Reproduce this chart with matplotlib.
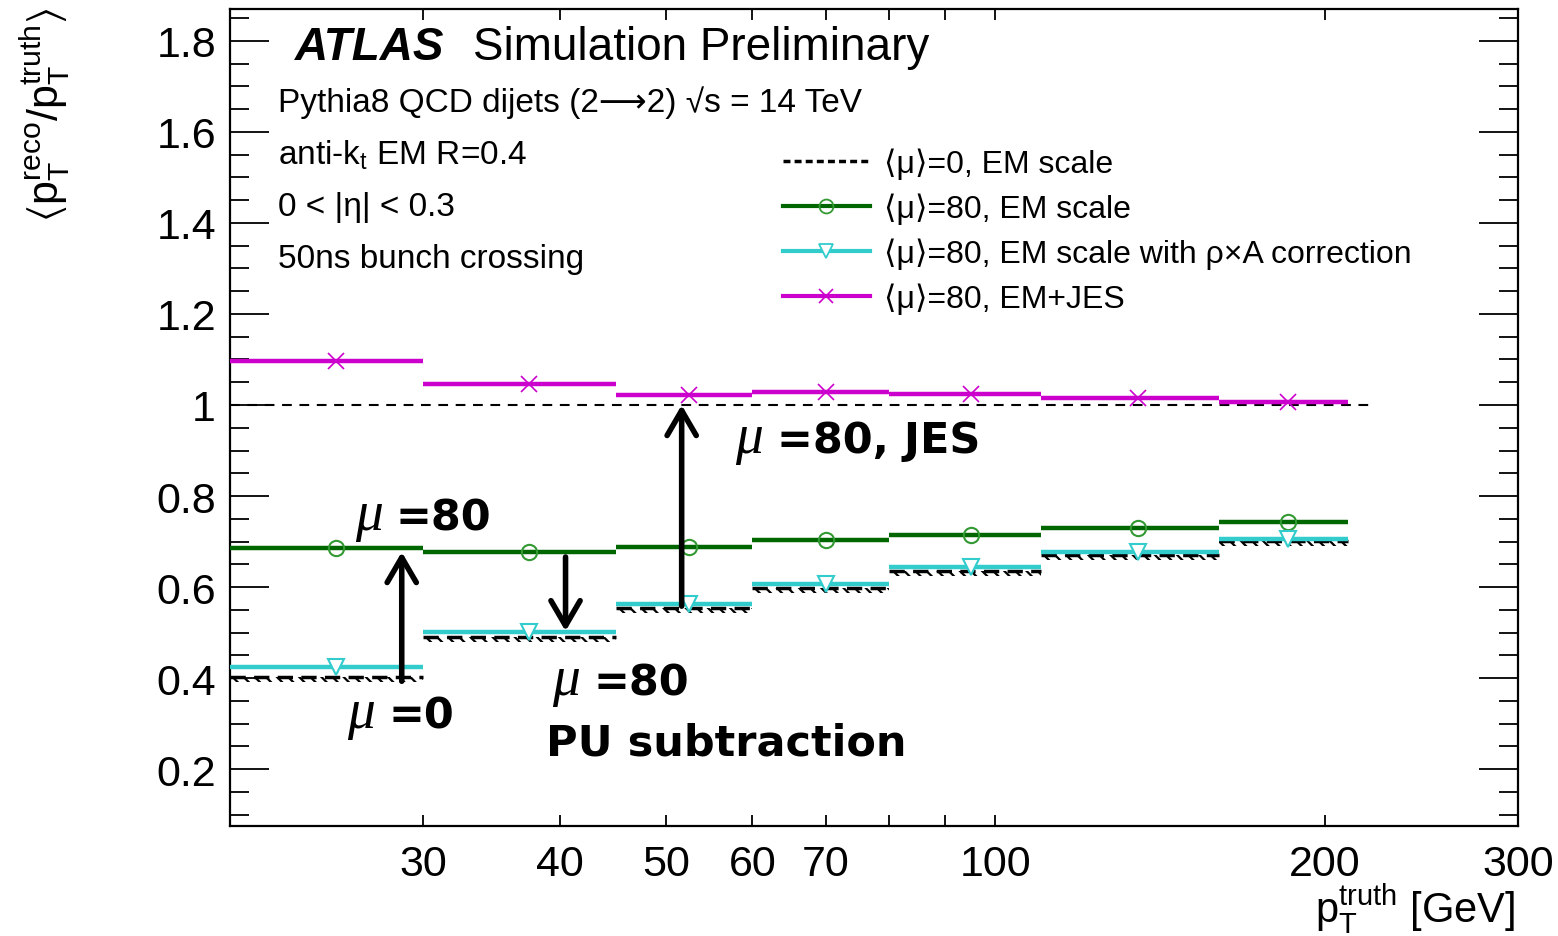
import numpy as np
import matplotlib
matplotlib.use('Agg')
import matplotlib.pyplot as plt
from matplotlib.lines import Line2D
from matplotlib.ticker import FixedLocator, MultipleLocator, FuncFormatter
from matplotlib.transforms import offset_copy

plt.rcParams['font.family'] = ['Liberation Sans', 'DejaVu Sans']
plt.rcParams['mathtext.fontset'] = 'custom'
plt.rcParams['mathtext.rm'] = 'Liberation Sans'
plt.rcParams['mathtext.it'] = 'Liberation Sans:italic'
plt.rcParams['mathtext.bf'] = 'Liberation Sans:bold'
plt.rcParams['mathtext.default'] = 'regular'
plt.rcParams['hatch.linewidth'] = 1.6
plt.rcParams['lines.scale_dashes'] = False

# pT truth bins [GeV]
bin_edges = [20, 30, 45, 60, 80, 110, 160, 210]

# <pT reco / pT truth> per bin
resp_mu0_em = [0.402, 0.491, 0.553, 0.598, 0.635, 0.671, 0.701]
resp_mu80_em = [0.685, 0.678, 0.688, 0.703, 0.714, 0.729, 0.744]
resp_mu80_area = [0.425, 0.502, 0.563, 0.607, 0.644, 0.677, 0.706]
resp_mu80_jes = [1.097, 1.046, 1.022, 1.029, 1.024, 1.015, 1.007]
err_mu80_area = [0.014, 0.003, 0.003, 0.003, 0.003, 0.003, 0.003]

legend_labels = [
    '⟨μ⟩=0, EM scale',
    '⟨μ⟩=80, EM scale',
    '⟨μ⟩=80, EM scale with ρ×A correction',
    '⟨μ⟩=80, EM+JES',
]

GREEN = '#006600'
CYAN = '#33CCCC'
MAGENTA = '#CC00CC'

edges = np.array(bin_edges, dtype=float)
centers = 0.5 * (edges[:-1] + edges[1:])

fig = plt.figure(figsize=(15.58, 9.37), dpi=100)
ax = fig.add_axes([0.1476, 0.1174, 0.8267, 0.8719])
ax.set_xscale('log')

# reference line at unity
ax.hlines(1.0, 20, 220, colors='black', lw=1.5, linestyles=(0, (7, 5.5)), zorder=2)

# mu=0 EM scale: dashed bin tops with a hatched band underneath
mu0 = np.array(resp_mu0_em)
ax.stairs(mu0, edges, baseline=mu0 - 0.011, fill=True, facecolor='none',
          edgecolor='black', hatch='\\\\\\', linewidth=0, zorder=3)
ax.hlines(mu0, edges[:-1], edges[1:], colors='black', lw=2.5,
          linestyles=(0, (11, 6)), zorder=3)

# pile-up subtracted
ax.hlines(resp_mu80_area, edges[:-1], edges[1:], colors=CYAN, lw=3.2, zorder=4)
ax.errorbar(centers, resp_mu80_area, yerr=err_mu80_area, fmt='v', ms=11,
            mfc='white', mec=CYAN, mew=1.5, ecolor=CYAN, elinewidth=2.5,
            capsize=0, zorder=5)

# mu=80 EM scale
ax.hlines(resp_mu80_em, edges[:-1], edges[1:], colors=GREEN, lw=3.2, zorder=4)
ax.plot(centers, resp_mu80_em, 'o', ms=11, mfc='none', mec='#339933',
        mew=1.5, zorder=5)

# mu=80 EM+JES
ax.hlines(resp_mu80_jes, edges[:-1], edges[1:], colors=MAGENTA, lw=3.2, zorder=4)
ax.plot(centers, resp_mu80_jes, 'x', ms=11, mec=MAGENTA, mew=1.2, zorder=5)

# axes ranges and ticks
ax.set_xlim(20, 300)
ax.set_ylim(0.075, 1.87)
xt = [30, 40, 50, 60, 70, 100, 200, 300]
ax.xaxis.set_major_locator(FixedLocator(xt))
ax.xaxis.set_minor_locator(FixedLocator([80, 90]))
ax.xaxis.set_major_formatter(FuncFormatter(lambda v, p: f'{v:g}'))
ax.xaxis.set_minor_formatter(FuncFormatter(lambda v, p: ''))
ax.yaxis.set_major_locator(MultipleLocator(0.2))
ax.yaxis.set_minor_locator(MultipleLocator(0.05))
ax.yaxis.set_major_formatter(FuncFormatter(lambda v, p: f'{v:g}'))

ax.tick_params(which='both', direction='in', top=True, right=True, width=1.3,
               labelsize=31)
ax.tick_params(axis='y', which='major', length=28, pad=10)
ax.tick_params(axis='y', which='minor', length=14)
ax.tick_params(axis='x', which='both', length=8, pad=13)
for s in ax.spines.values():
    s.set_linewidth(1.6)

# axis titles
fig.text(0.029, 0.992, r'$\langle p_{T}^{reco}/p_{T}^{truth}\rangle$',
         rotation=90, ha='center', va='top', fontsize=31,
         math_fontfamily='stixsans')
ax.text(0.998, -0.10, '$p_{T}^{truth}$ [GeV]', transform=ax.transAxes,
        ha='right', va='center', fontsize=30)

# labels
ax.text(0.0505, 0.939, 'ATLAS', transform=ax.transAxes, fontsize=33,
        fontweight='bold', fontstyle='italic', va='baseline')
ax.text(0.1887, 0.939, 'Simulation Preliminary', transform=ax.transAxes,
        fontsize=33, va='baseline')
info = ['Pythia8 QCD dijets (2⟶2) √s = 14 TeV',
        'anti-k$_{t}$ EM R=0.4',
        '0 < |η| < 0.3',
        '50ns bunch crossing']
for i, s in enumerate(info):
    ax.text(0.0373, 0.875 - i * 0.0637, s, transform=ax.transAxes,
            fontsize=24, va='baseline')

handles = [
    Line2D([], [], color='black', lw=2.5, linestyle=(0, (5, 3))),
    Line2D([], [], color=GREEN, lw=3, marker='o', ms=10, mfc='none',
           mec='#339933', mew=1.3),
    Line2D([], [], color=CYAN, lw=3, marker='v', ms=10, mfc='white',
           mec=CYAN, mew=1.3),
    Line2D([], [], color=MAGENTA, lw=3, marker='x', ms=10, mec=MAGENTA,
           mew=1.2),
]
ax.legend(handles, legend_labels, loc='upper left',
          bbox_to_anchor=(0.4293, 0.830), frameon=False, fontsize=23,
          handlelength=2.72, handletextpad=0.44, labelspacing=0.42,
          borderpad=0, borderaxespad=0, numpoints=1)

# annotations: italic mu followed by bold text
after_mu = offset_copy(ax.transData, fig=fig, x=41, y=0, units='dots')


def mu_label(x, y, rest):
    ax.text(x, y, 'μ', fontsize=40, fontstyle='italic',
            family='Liberation Serif', va='baseline', zorder=6)
    ax.text(x, y, rest, transform=after_mu, fontsize=31, fontweight='bold',
            family='DejaVu Sans', va='baseline', zorder=6)


mu_label(57.9, 0.897, '=80, JES')
mu_label(26.0, 0.727, '=80')
mu_label(25.6, 0.292, '=0')
mu_label(39.4, 0.365, '=80')
ax.text(38.9, 0.233, 'PU subtraction', fontsize=31, fontweight='bold',
        family='DejaVu Sans', va='baseline', zorder=6)

arrow = dict(arrowstyle='->,head_length=0.6,head_width=0.35', lw=4,
             color='black', mutation_scale=30, shrinkA=0, shrinkB=0)
ax.annotate('', xy=(28.7, 0.677), xytext=(28.7, 0.393), arrowprops=arrow, zorder=6)
ax.annotate('', xy=(40.5, 0.503), xytext=(40.5, 0.666), arrowprops=arrow, zorder=6)
ax.annotate('', xy=(51.7, 1.0), xytext=(51.7, 0.558), arrowprops=arrow, zorder=6)

fig.savefig('out.png', dpi=100)
